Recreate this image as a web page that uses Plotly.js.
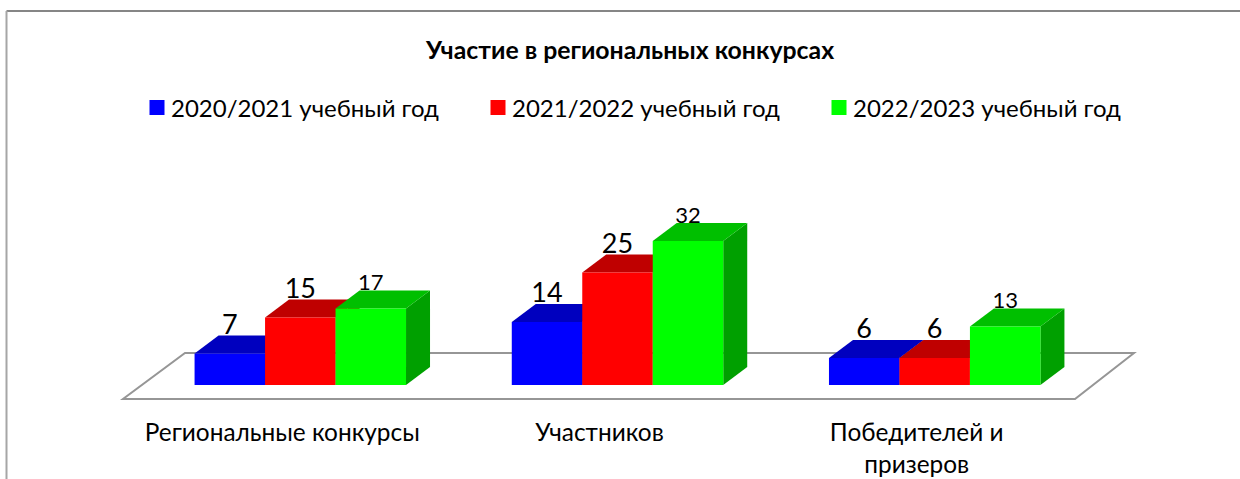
<!DOCTYPE html>
<html><head><meta charset="utf-8">
<script src="https://cdn.plot.ly/plotly-3.0.1.min.js"></script>
<style>html,body{margin:0;padding:0;background:#fff}#c{width:1240px;height:479px}</style>
</head><body><div id="c"></div>
<script>
const categories = ["Региональные конкурсы", "Участников", "Победителей и<br>призеров"];
const seriesNames = ["2020/2021 учебный год", "2021/2022 учебный год", "2022/2023 учебный год"];
const values2021 = [7, 14, 6];
const values2022 = [15, 25, 6];
const values2023 = [17, 32, 13];
const allValues = [values2021, values2022, values2023];

const front = ["#0000ff", "#ff0000", "#00ff00"];
const top3d = ["#0000bf", "#bf0000", "#00bf00"];
const side3d = ["#0000a0", "#a00000", "#00a000"];
const smallLabel = [[0,0,0],[0,0,0],[1,1,1]];

const W = 1240, H = 479, bottomMargin = 63, baseY = 385, pxPerUnit = 4.5, pxPerCat = 317.2, firstCatPx = 300.3;
const xOf = p => (p - firstCatPx) / pxPerCat;
const yOf = p => (baseY - p) / pxPerUnit;
const barW = (2 / 3) / 3, dX = 24 / pxPerCat, dY = 18 / pxPerUnit;
const catX = categories.map((_, i) => i);

const shapes = [];
const poly = pts => "M" + pts.map(p => p.join(",")).join("L") + "Z";
// floor
shapes.push({type:"path", layer:"below", xref:"x", yref:"y",
  path: poly([[xOf(123),yOf(399)],[xOf(1075),yOf(399)],[xOf(1134),yOf(353)],[xOf(185),yOf(353)]]),
  line:{color:"#969696", width:2}, fillcolor:"#ffffff"});
// depth faces, from the values
allValues.forEach((vals, s) => {
  vals.forEach((v, c) => {
    const x0 = c + (s - 1.5) * barW, x1 = x0 + barW;
    shapes.push({type:"path", layer:"below", xref:"x", yref:"y", line:{width:0}, fillcolor:side3d[s],
      path: poly([[x1,0],[x1+dX,dY],[x1+dX,v+dY],[x1,v]])});
    shapes.push({type:"path", layer:"below", xref:"x", yref:"y", line:{width:0}, fillcolor:top3d[s],
      path: poly([[x0,v],[x1,v],[x1+dX,v+dY],[x0+dX,v+dY]])});
  });
});
// frame
shapes.push({type:"line", xref:"paper", yref:"paper", x0:6.5/W, x1:1, y0:1-11/(H-bottomMargin), y1:1-11/(H-bottomMargin), line:{color:"#868686", width:2}});
shapes.push({type:"line", xref:"paper", yref:"paper", x0:6.5/W, x1:6.5/W, y0:1-11/(H-bottomMargin), y1:-bottomMargin/(H-bottomMargin), line:{color:"#a6a6a6", width:2}});

const traces = [];
allValues.forEach((vals, s) => traces.push({type:"bar", x:catX, y:vals, name:seriesNames[s], showlegend:false,
  marker:{color:front[s], line:{width:0}}, hoverinfo:"x+y"}));
allValues.forEach((vals, s) => traces.push({type:"scatter", mode:"text", showlegend:false, cliponaxis:false,
  x:catX.map(c => c + (s - 1) * barW),
  y:vals.map((v, i) => v + dY - (smallLabel[s][i] ? 1.2 : 1.1)),
  text:vals.map(String), textposition:"top center", hoverinfo:"skip",
  textfont:{family:"Lato, 'Open Sans', sans-serif", size:smallLabel[s].map(f => f ? 22 : 27), color:"#000"}}));
seriesNames.forEach((n, s) => traces.push({type:"scatter", mode:"markers", x:[null], y:[null], name:n,
  marker:{symbol:"square", size:15, color:front[s]}, showlegend:true}));

const layout = {
  width:W, height:H, margin:{l:0,r:0,t:0,b:bottomMargin}, paper_bgcolor:"#fff", plot_bgcolor:"rgba(0,0,0,0)",
  barmode:"group", bargap:1/3, bargroupgap:0, showlegend:true,
  title:{text:"<b>Участие в региональных конкурсах</b>", x:630/W, xanchor:"center", y:1-50/H, yanchor:"middle",
    font:{family:"Lato, sans-serif", size:24.8, color:"#000"}},
  legend:{orientation:"h", x:137/W, xanchor:"left", y:1-108/(H-bottomMargin), yanchor:"middle",
    entrywidth:302, entrywidthmode:"pixels", indentation:-6, traceorder:"normal", itemsizing:"trace", bgcolor:"rgba(0,0,0,0)",
    font:{family:"Lato, sans-serif", size:24, color:"#000"}},
  xaxis:{range:[xOf(0), xOf(W)], tickmode:"array", tickvals:catX.map(c => c - 18/pxPerCat), ticktext:categories,
    showgrid:false, zeroline:false, showline:false, ticks:"", automargin:false,
    tickfont:{family:"Lato, sans-serif", size:24.4, color:"#000"}},
  yaxis:{range:[yOf(H-bottomMargin), yOf(0)], visible:false, showgrid:false, zeroline:false, automargin:false},
  shapes:shapes
};
Plotly.newPlot("c", traces, layout, {displayModeBar:false, staticPlot:true}).then(gd => {
  // Nudge the legend keys toward their labels, as in the reference.
  gd.querySelectorAll(".legend .legendpoints").forEach(g => {
    const t = g.getAttribute("transform") || "";
    g.setAttribute("transform", "translate(6,0) " + t);
  });
});
</script></body></html>
